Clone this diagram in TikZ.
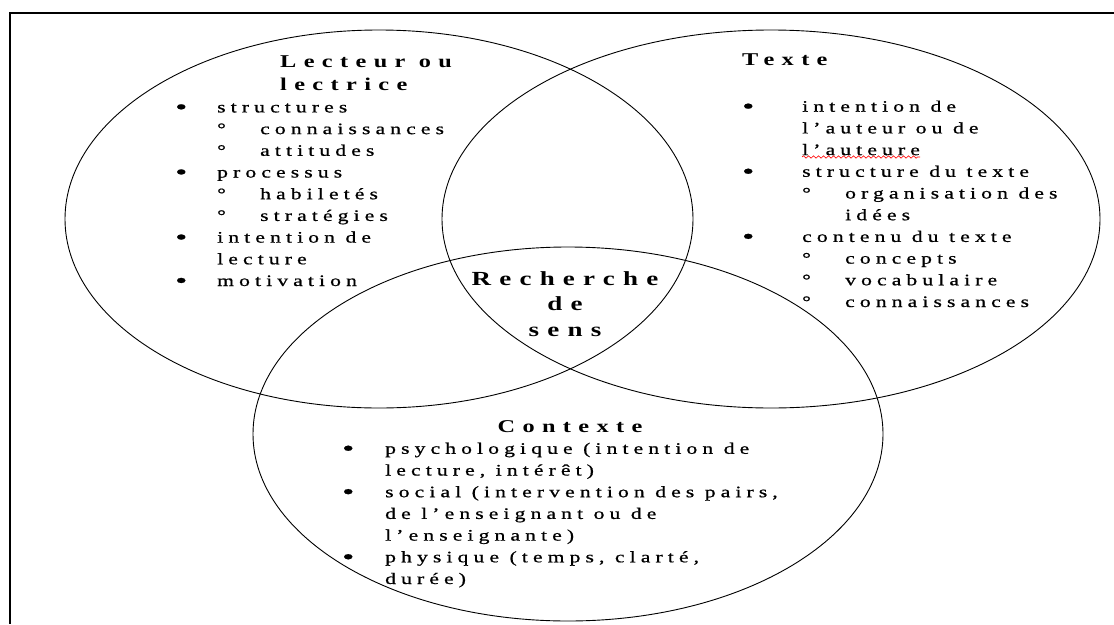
\documentclass[tikz,border=0pt]{standalone}
\usepackage{fontspec}
\setmainfont{Liberation Serif}[FakeStretch=1.35, LetterSpace=32, UprightFeatures={FakeBold=0.8}, BoldFeatures={LetterSpace=41}]
\usetikzlibrary{decorations.pathmorphing}
\newlength\bulw
\newlength\subw
\newcommand\bul{\makebox[\bulw][l]{\raisebox{-0.1em}{\scalebox{1.6}[1.35]{•}}}}
\newcommand\sub{\hspace*{\bulw}\makebox[\subw][l]{°}}
\newcommand\cont{\hspace*{\bulw}}

\begin{document}
\begin{tikzpicture}[x=1pt, y=-1pt,
        ring/.style={line width=0.9pt},
        body/.style={inner sep=0, anchor=base west, align=left,
                font={\fontsize{16}{21.7}\selectfont\setlength\bulw{#1}\setlength\subw{43pt}}},
        head/.style={inner sep=0, anchor=base west, align=left,
                font={\bfseries\fontsize{18}{23}\selectfont}}]
        \useasboundingbox (0,0) rectangle (1114,624);
        \draw[line width=2pt] (1114,13) -| (10,624);
        \draw[ring] (379,219) ellipse [x radius=314, y radius=189];
        \draw[ring] (771,219) ellipse [x radius=329, y radius=189];
        \draw[ring] (568,434) ellipse [x radius=315, y radius=187];

        \node[head] (lecteur) at (280,90) {Lecteur ou\\lectrice};
        \node[body=42pt] (lecteurliste) at (175,286) {\bul structures\\
                \sub connaissances\\ \sub attitudes\\
                \bul processus\\
                \sub habiletés\\ \sub stratégies\\
                \bul intention de\\ \cont lecture\\
                \bul motivation};

        \node[head] (texte) at (742,65) {Texte};
        \node[body=60pt] (texteliste) at (742,307) {\bul intention de\\
                \cont l’auteur ou de\\ \cont l’auteure\\
                \bul structure du texte\\
                \sub organisation des\\ \cont\hspace*{\subw}idées\\
                \bul contenu du texte\\
                \sub concepts\\ \sub vocabulaire\\ \sub connaissances};
        \draw[red, line width=0.6pt, decorate, decoration={snake, amplitude=1.2pt, segment length=5pt}]
                (802,157) -- (920,157);

        \node[head, anchor=base, align=center, font={\bfseries\fontsize{20}{25.5}\selectfont}]
                (sens) at (565,336) {Recherche\\de\\sens};

        \node[head, anchor=base] (contexte) at (570,432) {Contexte};
        \node[body=43pt] (contexteliste) at (342,584) {\bul psychologique (intention de\\
                \cont lecture, intérêt)\\
                \bul social (intervention des pairs,\\
                \cont de l’enseignant ou de\\ \cont l’enseignante)\\
                \bul physique (temps, clarté,\\ \cont durée)};
\end{tikzpicture}
\end{document}
